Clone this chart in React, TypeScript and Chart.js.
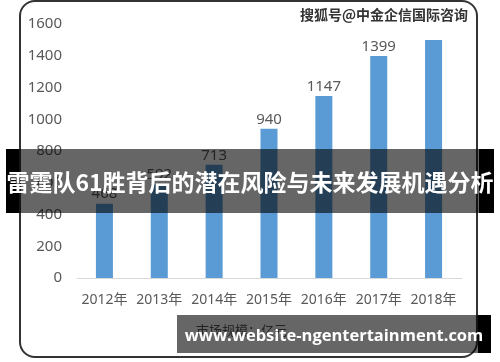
import React, { useEffect, useRef } from "react";
import { Chart, registerables } from "chart.js";

Chart.register(...registerables);

const categories = ["2012年", "2013年", "2014年", "2015年", "2016年", "2017年", "2018年"];
const values = [468, 592, 713, 940, 1147, 1399, 1500];
const valueLabels = ["468", "592", "713", "940", "1147", "1399", ""];
const yTicks = [0, 200, 400, 600, 800, 1000, 1200, 1400, 1600];
const seriesName = "市场规模：亿元";
const watermark = "搜狐号@中金企信国际咨询";
const bannerText = "雷霆队61胜背后的潜在风险与未来发展机遇分析";
const siteText = "www.website-ngentertainment.com";

const FONT = "'Noto Sans', 'Noto Sans CJK SC', sans-serif";

const valueLabelPlugin = {
  id: "valueLabels",
  afterDatasetsDraw(chart: any) {
    const { ctx } = chart;
    const meta = chart.getDatasetMeta(0);
    ctx.save();
    ctx.fillStyle = "#595959";
    ctx.font = "15px " + FONT;
    ctx.textAlign = "center";
    ctx.textBaseline = "bottom";
    meta.data.forEach((bar: any, i: number) => {
      const t = valueLabels[i];
      if (t) ctx.fillText(t, bar.x, bar.y - 2);
    });
    ctx.restore();
  },
};

export default function App() {
  const ref = useRef<HTMLCanvasElement>(null);
  useEffect(() => {
    if (!ref.current) return;
    const chart = new Chart(ref.current, {
      type: "bar",
      data: {
        labels: categories,
        datasets: [
          {
            label: seriesName,
            data: values,
            backgroundColor: "#5b9bd5",
            categoryPercentage: 1,
            barPercentage: 0.31,
          },
        ],
      },
      options: {
        animation: false,
        responsive: false,
        maintainAspectRatio: false,
        layout: { padding: { left: 0, right: 39, top: 17, bottom: 0 } },
        plugins: { legend: { display: false }, tooltip: { enabled: false } },
        scales: {
          x: {
            grid: { display: false, drawTicks: false },
            border: { display: true, color: "#d9d9d9", width: 1 },
            ticks: { color: "#595959", font: { size: 14, family: FONT }, padding: 14, maxRotation: 0, autoSkip: false },
            afterFit: (s: any) => { s.height = 84; },
          },
          y: {
            min: 0,
            max: 1600,
            grid: { display: false, drawTicks: false },
            border: { display: false },
            afterBuildTicks: (s: any) => { s.ticks = yTicks.map((v) => ({ value: v })); },
            ticks: { color: "#595959", font: { size: 15, family: FONT }, padding: 15, callback: (v: any) => String(v) },
            afterFit: (s: any) => { s.width = 77; },
          },
        },
      },
      plugins: [valueLabelPlugin],
    });
    return () => chart.destroy();
  }, []);

  return (
    <div style={{ position: "absolute", left: 0, top: 0, width: 500, height: 362, background: "#fff", overflow: "hidden" }}>
      <canvas ref={ref} width={500} height={362} style={{ position: "absolute", left: 0, top: 0, width: 500, height: 362 }} />
      <div style={{ position: "absolute", left: 19, top: 0, width: 459, height: 358, border: "2px solid #333", borderRadius: 16, boxSizing: "border-box", pointerEvents: "none" }} />
      <div style={{ position: "absolute", left: 292, top: 4, width: 176, textAlign: "right", fontFamily: "'Noto Sans CJK SC', sans-serif", fontWeight: 700, fontSize: 14, color: "#333", textShadow: "0 0 2px #fff, 0 0 2px #fff", whiteSpace: "nowrap" }}>{watermark}</div>
      <div style={{ position: "absolute", left: 196, top: 320, fontFamily: "'Noto Sans CJK SC', sans-serif", fontSize: 13, color: "#595959", whiteSpace: "nowrap" }}>{seriesName}</div>
      {/* banner */}
      <div style={{ position: "absolute", left: 6, top: 149, width: 13, height: 64, background: "#000" }} />
      <div style={{ position: "absolute", left: 479, top: 149, width: 15, height: 64, background: "#000" }} />
      <div style={{ position: "absolute", left: 19, top: 149, width: 460, height: 64, background: "rgba(0,0,0,0.6)" }} />
      <div style={{ position: "absolute", left: 0, top: 149, width: 500, height: 64, display: "flex", alignItems: "center", justifyContent: "center", fontFamily: "'Noto Sans CJK SC', sans-serif", fontWeight: 700, fontSize: 23, color: "#fff", whiteSpace: "nowrap" }}>{bannerText}</div>
      {/* bottom site box */}
      <div style={{ position: "absolute", left: 177, top: 315, width: 301, height: 38, background: "rgba(0,0,0,0.6)" }} />
      <div style={{ position: "absolute", left: 478, top: 315, width: 13, height: 38, background: "#000" }} />
      <div style={{ position: "absolute", left: 177, top: 315, width: 314, height: 38, display: "flex", alignItems: "center", justifyContent: "center", fontFamily: "'Open Sans', 'Noto Sans', sans-serif", fontWeight: 700, fontSize: 16.5, color: "#fff", whiteSpace: "nowrap" }}>{siteText}</div>
    </div>
  );
}
